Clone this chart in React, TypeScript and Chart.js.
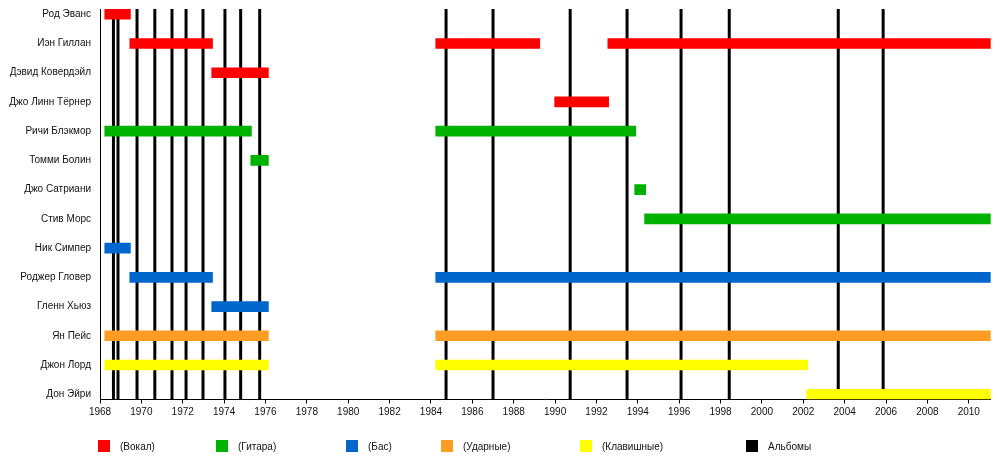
import React, { useEffect, useRef } from "react";
import { Chart, registerables } from "chart.js";

Chart.register(...registerables);

// ---------- data ----------
const members: string[] = [
  "Род Эванс",
  "Иэн Гиллан",
  "Дэвид Ковердэйл",
  "Джо Линн Тёрнер",
  "Ричи Блэкмор",
  "Томми Болин",
  "Джо Сатриани",
  "Стив Морс",
  "Ник Симпер",
  "Роджер Гловер",
  "Гленн Хьюз",
  "Ян Пейс",
  "Джон Лорд",
  "Дон Эйри",
];

const TIMELINE_START = 1968;
const TIMELINE_END = 2011.06;

type Seg = [string, number, number];

const vocals: Seg[] = [
  ["Род Эванс", 1968.23, 1969.47],
  ["Иэн Гиллан", 1969.44, 1973.44],
  ["Иэн Гиллан", 1984.23, 1989.26],
  ["Иэн Гиллан", 1992.55, TIMELINE_END],
  ["Дэвид Ковердэйл", 1973.4, 1976.14],
  ["Джо Линн Тёрнер", 1989.98, 1992.59],
];

const guitar: Seg[] = [
  ["Ричи Блэкмор", 1968.23, 1975.32],
  ["Ричи Блэкмор", 1984.23, 1993.9],
  ["Томми Болин", 1975.29, 1976.14],
  ["Джо Сатриани", 1993.85, 1994.38],
  ["Стив Морс", 1994.33, TIMELINE_END],
];

const bass: Seg[] = [
  ["Ник Симпер", 1968.23, 1969.47],
  ["Роджер Гловер", 1969.44, 1973.44],
  ["Роджер Гловер", 1984.23, TIMELINE_END],
  ["Гленн Хьюз", 1973.4, 1976.14],
];

const drums: Seg[] = [
  ["Ян Пейс", 1968.23, 1976.14],
  ["Ян Пейс", 1984.23, TIMELINE_END],
];

const keys: Seg[] = [
  ["Джон Лорд", 1968.23, 1976.14],
  ["Джон Лорд", 1984.23, 2002.21],
  ["Дон Эйри", 2002.17, TIMELINE_END],
];

const albums: number[] = [
  1968.65, 1968.87, 1969.79, 1970.65, 1971.48, 1972.16, 1972.98, 1974.04,
  1974.8, 1975.72, 1984.73, 1987.0, 1990.73, 1993.48, 1996.09, 1998.42,
  2003.69, 2005.86,
];

const tickYears: number[] = [
  1968, 1970, 1972, 1974, 1976, 1978, 1980, 1982, 1984, 1986, 1988, 1990,
  1992, 1994, 1996, 1998, 2000, 2002, 2004, 2006, 2008, 2010,
];

const legendLabels: string[] = [
  "(Вокал)",
  "(Гитара)",
  "(Бас)",
  "(Ударные)",
  "(Клавишные)",
  "Альбомы",
];

// ---------- styles ----------
const COLORS = {
  vocals: "#FF0000",
  guitar: "#00B200",
  bass: "#0066CC",
  drums: "#FF9C24",
  keys: "#FFFF00",
  albums: "#000000",
};
const legendColors = [
  COLORS.vocals,
  COLORS.guitar,
  COLORS.bass,
  COLORS.drums,
  COLORS.keys,
  COLORS.albums,
];
const legendX = [98, 216, 346, 441, 580, 746];
const LEGEND_Y = 440;
const FONT = '"Liberation Sans", Arial, Helvetica, sans-serif';

const Y_MIN = -0.18;
const Y_MAX = 13.18;

function barDataset(label: string, segs: Seg[], color: string) {
  return {
    type: "bar" as const,
    label,
    indexAxis: "y" as const,
    data: segs.map(([m, s, e]) => ({ x: [s, e], y: members.indexOf(m) })),
    backgroundColor: color,
    borderWidth: 0,
    barThickness: 10,
    grouped: false,
    order: 0,
  };
}

const legendPlugin = {
  id: "customLegend",
  afterDraw(chart: any) {
    const ctx = chart.ctx;
    ctx.save();
    ctx.font = `10px ${FONT}`;
    ctx.textBaseline = "middle";
    ctx.textAlign = "left";
    legendLabels.forEach((lab, i) => {
      const x = legendX[i];
      ctx.fillStyle = legendColors[i];
      ctx.fillRect(x, LEGEND_Y, 12, 12);
      ctx.fillStyle = "#111";
      ctx.fillText(lab, x + 22, LEGEND_Y + 7);
    });
    ctx.restore();
  },
};

export default function App() {
  const ref = useRef<HTMLCanvasElement | null>(null);

  useEffect(() => {
    if (!ref.current) return;
    const albumData: any[] = [];
    albums.forEach((a) => {
      albumData.push({ x: a, y: Y_MIN });
      albumData.push({ x: a, y: Y_MAX });
      albumData.push({ x: a, y: null });
    });

    const chart = new Chart(ref.current, {
      type: "bar",
      data: {
        datasets: [
          barDataset("Вокал", vocals, COLORS.vocals),
          barDataset("Гитара", guitar, COLORS.guitar),
          barDataset("Бас", bass, COLORS.bass),
          barDataset("Ударные", drums, COLORS.drums),
          barDataset("Клавишные", keys, COLORS.keys),
          {
            type: "line" as const,
            label: "Альбомы",
            data: albumData,
            borderColor: COLORS.albums,
            borderWidth: 3,
            pointRadius: 0,
            spanGaps: false,
            tension: 0,
            order: 10,
          } as any,
        ] as any,
      },
      options: {
        responsive: false,
        animation: false,
        devicePixelRatio: 1,
        events: [],
        layout: { padding: { top: 9, right: 9.3, bottom: 38.5, left: 0 } },
        plugins: {
          legend: { display: false },
          tooltip: { enabled: false },
          title: { display: false },
        },
        scales: {
          x: {
            type: "linear",
            position: "bottom",
            offset: false,
            min: TIMELINE_START,
            max: TIMELINE_END,
            afterBuildTicks: (scale: any) => {
              scale.ticks = tickYears.map((v) => ({ value: v }));
            },
            afterFit: (scale: any) => {
              scale.height = 20;
              scale.paddingLeft = 0;
              scale.paddingRight = 0;
            },
            border: { display: true, color: "#000", width: 1 },
            grid: {
              offset: false,
              drawOnChartArea: false,
              drawTicks: true,
              tickLength: 4,
              color: "#000",
            },
            ticks: {
              autoSkip: false,
              maxRotation: 0,
              padding: 3,
              color: "#111",
              font: { family: FONT, size: 10 },
              callback: (v: any) => String(v),
            },
          },
          y: {
            type: "linear",
            reverse: true,
            offset: false,
            min: Y_MIN,
            max: Y_MAX,
            afterBuildTicks: (scale: any) => {
              scale.ticks = members.map((_, i) => ({ value: i }));
            },
            afterFit: (scale: any) => {
              scale.width = 100;
              scale.paddingTop = 0;
              scale.paddingBottom = 0;
            },
            border: { display: true, color: "#000", width: 1 },
            grid: { display: false, offset: false },
            ticks: {
              autoSkip: false,
              padding: 1,
              color: "#111",
              font: { family: FONT, size: 10 },
              callback: (v: any) => members[v as number] ?? "",
            },
          },
        },
      } as any,
      plugins: [legendPlugin],
    });
    return () => chart.destroy();
  }, []);

  return (
    <div style={{ position: "absolute", left: 0, top: 0, width: 1000, height: 458, background: "#fff" }}>
      <canvas ref={ref} width={1000} height={458} style={{ width: 1000, height: 458 }} />
    </div>
  );
}
